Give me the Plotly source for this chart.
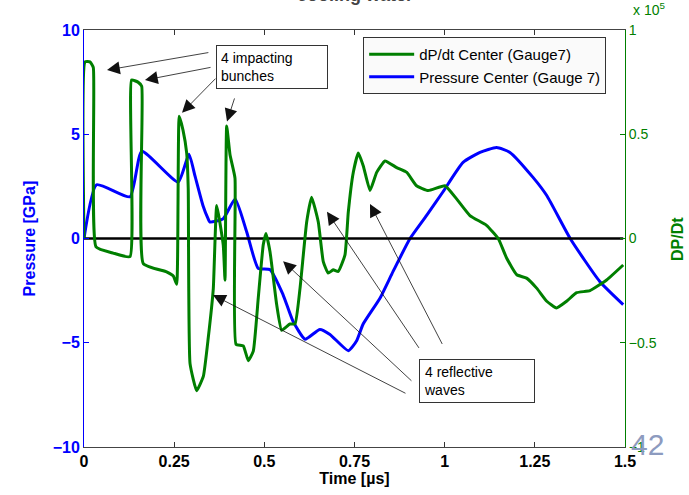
import plotly.graph_objects as go

# Pressure at centre gauge 7 [GPa] vs time [us]
t_pressure = [0, 0.035, 0.1275, 0.16, 0.261, 0.291, 0.3077, 0.33, 0.344, 0.349, 0.386, 0.419,
              0.451, 0.483, 0.516, 0.552, 0.579, 0.613, 0.654, 0.682, 0.733, 0.756, 0.774,
              0.821, 0.857, 0.904, 0.95, 0.995, 1.051, 1.098, 1.144, 1.181, 1.245, 1.283,
              1.348, 1.43, 1.495]
pressure = [0, 2.58, 2.0, 4.18, 2.71, 4.04, 3.0, 1.57, 0.95, 0.79, 0.95, 1.9,
            0.32, -1.43, -1.5, -2.7, -3.95, -4.83, -4.36, -4.6, -5.38, -4.9, -4.1,
            -2.85, -1.58, 0, 1.11, 2.23, 3.65, 4.13, 4.36, 4.13, 2.93, 2.06,
            0, -2.06, -3.17]

# dP/dt at centre gauge 7 [x 1e5]
t_rate = [0, 0.003, 0.0166, 0.0258, 0.0333, 0.081, 0.1275, 0.132, 0.1497, 0.16, 0.1644,
          0.229, 0.2476, 0.257, 0.264, 0.2745, 0.2847, 0.289, 0.294, 0.3124, 0.331, 0.3446,
          0.3585, 0.368, 0.386, 0.391, 0.3956, 0.405, 0.4186, 0.4214, 0.4416, 0.4555,
          0.4694, 0.4832, 0.497, 0.5046, 0.5157, 0.5342, 0.548, 0.571, 0.585, 0.599,
          0.6174, 0.631, 0.6496, 0.6634, 0.677, 0.691, 0.705, 0.7236, 0.7328, 0.7466,
          0.7605, 0.7744, 0.793, 0.8115, 0.8345, 0.867, 0.895, 0.922, 0.9545, 1.0008,
          1.033, 1.07, 1.116, 1.1486, 1.172, 1.2, 1.227, 1.255, 1.283, 1.31, 1.338,
          1.366, 1.403, 1.449, 1.495]
rate = [0, 0.847, 0.847, 0.82, -0.04, -0.07, -0.087, 0.76, 0.75, 0.73, -0.12,
        -0.16, -0.18, -0.22, 0.586, 0.52, 0.41, 0.24, -0.6, -0.73, -0.66, -0.475,
        -0.24, 0.158, -0.03, -0.2, 0.54, 0.40, 0.29, -0.507, -0.515, -0.586,
        -0.54, -0.285, -0.03, 0.024, -0.063, -0.317, -0.44, -0.41, -0.41, -0.238,
        0.079, 0.198, 0.079, -0.111, -0.166, -0.150, -0.158, -0.079, 0.127, 0.317,
        0.41, 0.348, 0.23, 0.317, 0.372, 0.34, 0.317, 0.253, 0.23, 0.253,
        0.19, 0.11, 0.063, 0, -0.095, -0.174, -0.19, -0.238, -0.301, -0.333, -0.301,
        -0.26, -0.25, -0.199, -0.127]

x_ticks = [0, 0.25, 0.5, 0.75, 1, 1.25, 1.5]
x_ticklabels = ["0", "0.25", "0.5", "0.75", "1", "1.25", "1.5"]
p_ticks = [-10, -5, 0, 5, 10]
p_ticklabels = ["\u221210", "\u22125", "0", "5", "10"]
r_ticks = [-1, -0.5, 0, 0.5, 1]
r_ticklabels = ["\u22121", "\u22120.5", "0", "0.5", "1"]

# arrows: (tail_t, tail_p, head_t, head_p) in data units of the pressure axis
impact_arrows = [(0.349, 8.93, 0.0638, 8.08),
                 (0.355, 8.22, 0.169, 7.60),
                 (0.3687, 7.74, 0.2717, 6.03),
                 (0.4186, 6.79, 0.3965, 5.61)]
reflect_arrows = [(0.912, -6.89, 0.552, -1.09),
                  (0.8955, -7.46, 0.3576, -2.71),
                  (0.9315, -5.32, 0.6737, 1.28),
                  (0.9953, -5.13, 0.7929, 1.66)]

FONT = "Arial, Liberation Sans, sans-serif"
GREEN = "#007f00"
BLUE = "#0000ff"

fig = go.Figure()
fig.add_trace(go.Scatter(x=t_pressure, y=pressure, mode="lines",
                         name="Pressure Center (Gauge 7)",
                         line=dict(color=BLUE, width=3, shape="spline", smoothing=0.5),
                         legendrank=2))
fig.add_trace(go.Scatter(x=t_rate, y=rate, mode="lines", yaxis="y2",
                         name="dP/dt Center (Gauge7)",
                         line=dict(color=GREEN, width=3, shape="spline", smoothing=0.4),
                         legendrank=1))
fig.add_trace(go.Scatter(x=[0, 1.495], y=[0, 0], mode="lines", showlegend=False,
                         line=dict(color="black", width=2.5), hoverinfo="skip"))

annotations = []
for tx, ty, hx, hy in impact_arrows + reflect_arrows:
    annotations.append(dict(x=hx, y=hy, ax=tx, ay=ty, xref="x", yref="y",
                            axref="x", ayref="y", text="", showarrow=True,
                            arrowhead=2, arrowsize=3.2, arrowwidth=0.8,
                            arrowcolor="#111"))

box_style = dict(showarrow=False, align="left", bordercolor="#333", borderwidth=1,
                 borderpad=4, bgcolor="white",
                 font=dict(family=FONT, size=14, color="black"),
                 xanchor="left", yanchor="top", xref="x", yref="y")
annotations.append(dict(text="4 impacting<br>bunches", x=0.366, y=9.26, width=102, **box_style))
annotations.append(dict(text="4 reflective<br>waves", x=0.929, y=-5.8, width=106, **box_style))

annotations += [
    dict(text="x 10<sup>5</sup>", xref="paper", yref="paper", x=1.012, y=1.025,
         xanchor="left", yanchor="bottom", showarrow=False,
         font=dict(family=FONT, size=14, color=GREEN)),
    dict(text="42", xref="paper", yref="paper", x=1.008, y=0.005,
         xanchor="left", yanchor="middle", showarrow=False,
         font=dict(family=FONT, size=30, color="#8d9bbf")),
    dict(text="<b>cooling water</b>", xref="paper", yref="paper", x=0.5, y=1.083,
         xanchor="center", yanchor="middle", showarrow=False,
         font=dict(family=FONT, size=18, color="#444")),
    dict(text="<b>DP/Dt</b>", xref="paper", yref="paper", x=1.097, y=0.5,
         xanchor="center", yanchor="middle", showarrow=False, textangle=-90,
         font=dict(family=FONT, size=16, color=GREEN)),
    dict(text="<b>Pressure [GPa]</b>", xref="paper", yref="paper", x=-0.100, y=0.5,
         xanchor="center", yanchor="middle", showarrow=False, textangle=-90,
         font=dict(family=FONT, size=16, color=BLUE)),
]

fig.update_layout(
    width=689, height=495,
    margin=dict(l=84, r=64, t=30, b=44),
    paper_bgcolor="white", plot_bgcolor="white",
    font=dict(family=FONT),
    showlegend=True,
    legend=dict(x=0.516, y=0.983, xanchor="left", yanchor="top",
                bgcolor="#fafafa", bordercolor="#333", borderwidth=1,
                font=dict(family=FONT, size=15, color="black"),
                itemwidth=45, tracegroupgap=0),
    xaxis=dict(range=[0, 1.5], tickvals=x_ticks, ticktext=x_ticklabels,
               ticks="inside", ticklen=5, tickcolor="#333", showline=True,
               linecolor="#444", linewidth=1, mirror="ticks", showgrid=False,
               zeroline=False,
               tickfont=dict(family=FONT, size=16, color="black", weight="bold"),
               title=dict(text="<b>Time [\u00b5s]</b>", standoff=2,
                          font=dict(family=FONT, size=16, color="black"))),
    yaxis=dict(range=[-10, 10], tickvals=p_ticks, ticktext=p_ticklabels,
               ticks="inside", ticklen=5, tickcolor=BLUE, showline=True,
               linecolor=BLUE, linewidth=1, showgrid=False, zeroline=False,
               tickfont=dict(family=FONT, size=16, color=BLUE, weight="bold")),
    yaxis2=dict(range=[-1, 1], tickvals=r_ticks, ticktext=r_ticklabels,
                overlaying="y", side="right", ticks="inside", ticklen=5,
                tickcolor=GREEN, showline=True, linecolor=GREEN, linewidth=1,
                showgrid=False, zeroline=False,
                tickfont=dict(family=FONT, size=14, color=GREEN)),
    annotations=annotations,
)

fig.write_html("out.html")
